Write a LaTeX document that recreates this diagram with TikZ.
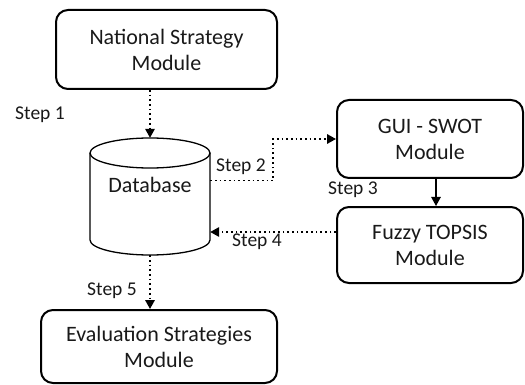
\documentclass[tikz,border=0pt]{standalone}
\usepackage{fontspec}
\setmainfont{Carlito}
\usetikzlibrary{arrows.meta,calc}
\begin{document}
\begin{tikzpicture}[x=1pt,y=-1pt,
  module/.style={draw, line width=2pt, rounded corners=12pt, align=center,
    inner sep=0pt, font=\fontsize{22}{26}\selectfont, text=black!90},
  steplabel/.style={font=\fontsize{19.5}{22}\selectfont, text=black!90, inner sep=0pt},
  dbtext/.style={font=\fontsize{22}{26}\selectfont, text=black!90, inner sep=0pt},
  tip/.style={-{Triangle[length=9pt,width=9.5pt]}},
  dotflow/.style={tip, line width=1.7pt, dash pattern=on 1.7pt off 3pt},
  solidflow/.style={tip, line width=1.2pt}]
\useasboundingbox (0,0) rectangle (525,385);
\fill[white] (0,0) rectangle (525,385);

% modules
\node[module, minimum width=221pt, minimum height=79pt] (national) at (166.5,49.5)
  {National Strategy\\Module};
\node[module, minimum width=186pt, minimum height=78pt] (gui) at (430,139)
  {GUI - SWOT\\Module};
\node[module, minimum width=186pt, minimum height=76pt] (fuzzy) at (430,245)
  {Fuzzy TOPSIS\\Module};
\node[module, minimum width=236pt, minimum height=73pt] (eval) at (159,346.5)
  {Evaluation Strategies\\Module};

% database cylinder
\node[minimum width=120pt, minimum height=117pt, inner sep=0pt] (db) at (150,196.5) {};
\draw[line width=1.3pt] (150,153) ellipse[x radius=60pt, y radius=15pt];
\draw[line width=1.3pt] (90,153) -- (90,240)
  arc[start angle=180, end angle=360, x radius=60pt, y radius=15pt] -- (210,153);
\node[dbtext] (dblabel) at (150,185) {Database};

% flows
\draw[dotflow] (db.north |- national.south) -- (db.north);
\draw[dotflow] ([yshift=16pt]db.east) -- ++(63,0) |- (gui.west);
\draw[solidflow] ([xshift=6pt]gui.south) -- ([xshift=6pt]fuzzy.north);
\coordinate (s4) at ([yshift=13pt]fuzzy.west);
\draw[dotflow] (s4) -- (s4 -| db.east);
\draw[dotflow] (db.south) -- (db.south |- eval.north);

% step labels
\node[steplabel] (l1) at (40,115) {Step 1};
\node[steplabel] (l2) at (241,167) {Step 2};
\node[steplabel] (l3) at (353,190) {Step 3};
\node[steplabel] (l4) at (257,242) {Step 4};
\node[steplabel] (l5) at (112,291) {Step 5};
\end{tikzpicture}
\end{document}
